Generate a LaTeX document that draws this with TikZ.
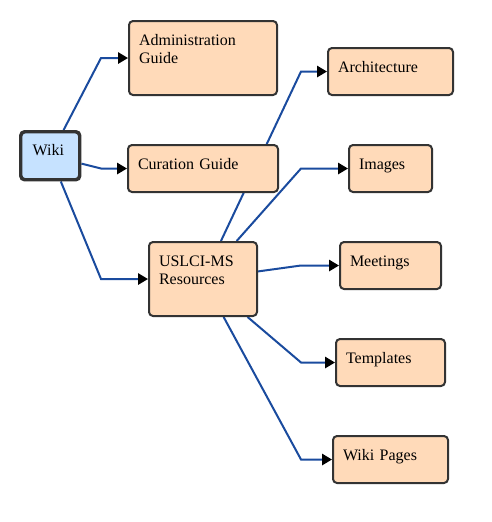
\documentclass[tikz,border=0pt]{standalone}
\usepackage{fontspec}
\setmainfont{Liberation Serif}
\usetikzlibrary{arrows.meta,backgrounds}
\definecolor{page-fill}{HTML}{FFDAB9}
\definecolor{root-fill}{HTML}{C6E2FF}
\definecolor{box-line}{HTML}{333333}
\definecolor{link-blue}{HTML}{1A4B9E}
\tikzset{
    page-box/.style = {draw=box-line, fill=page-fill, line width=1.5pt, rounded corners=3pt, anchor=north west, align=left, inner xsep=7.5pt, inner ysep=0pt, text height=18pt, text depth=17.25pt, font=\fontsize{12}{13.5}\selectfont},
    tall-box/.style = {text depth=37.5pt},
    root-box/.style = {page-box, fill=root-fill, line width=2.6pt, inner xsep=9pt, text depth=18pt},
    link-arrow/.style = {draw=link-blue, line width=1.5pt, -{Triangle[black, length=7.5pt, width=8.5pt]}},
}

\begin{document}
\begin{tikzpicture}[x=0.75pt, y=-0.75pt]
\useasboundingbox (0,0) rectangle (492,522);
\node[root-box, text width=26.25pt] (wiki) at (19,130) {Wiki};
\node[page-box, tall-box, text width=96pt] (admin) at (128,20) {Administration\\Guide};
\node[page-box, text width=97.5pt] (curation) at (127,144) {Curation Guide};
\node[page-box, tall-box, text width=66pt] (resources) at (148,241) {USLCI-MS\\Resources};
\node[page-box, text width=78.75pt] (architecture) at (327,47) {Architecture};
\node[page-box, text width=47.25pt] (images) at (348,144) {Images};
\node[page-box, text width=60.75pt] (meetings) at (339,241) {Meetings};
\node[page-box, text width=66.75pt] (templates) at (335,338) {Templates};
\node[page-box, text width=71.25pt] (pages) at (332,435) {Wiki Pages};

\coordinate (wikisplit) at (101,0);
\coordinate (ressplit) at (301,0);

\begin{scope}[on background layer]
\foreach \child in {admin, curation, resources}
    \draw[link-arrow] (wiki) -- (wikisplit |- \child) -- (\child);
\foreach \child in {architecture, images, meetings, templates, pages}
    \draw[link-arrow] (resources) -- (ressplit |- \child) -- (\child);
\end{scope}
\end{tikzpicture}
\end{document}
